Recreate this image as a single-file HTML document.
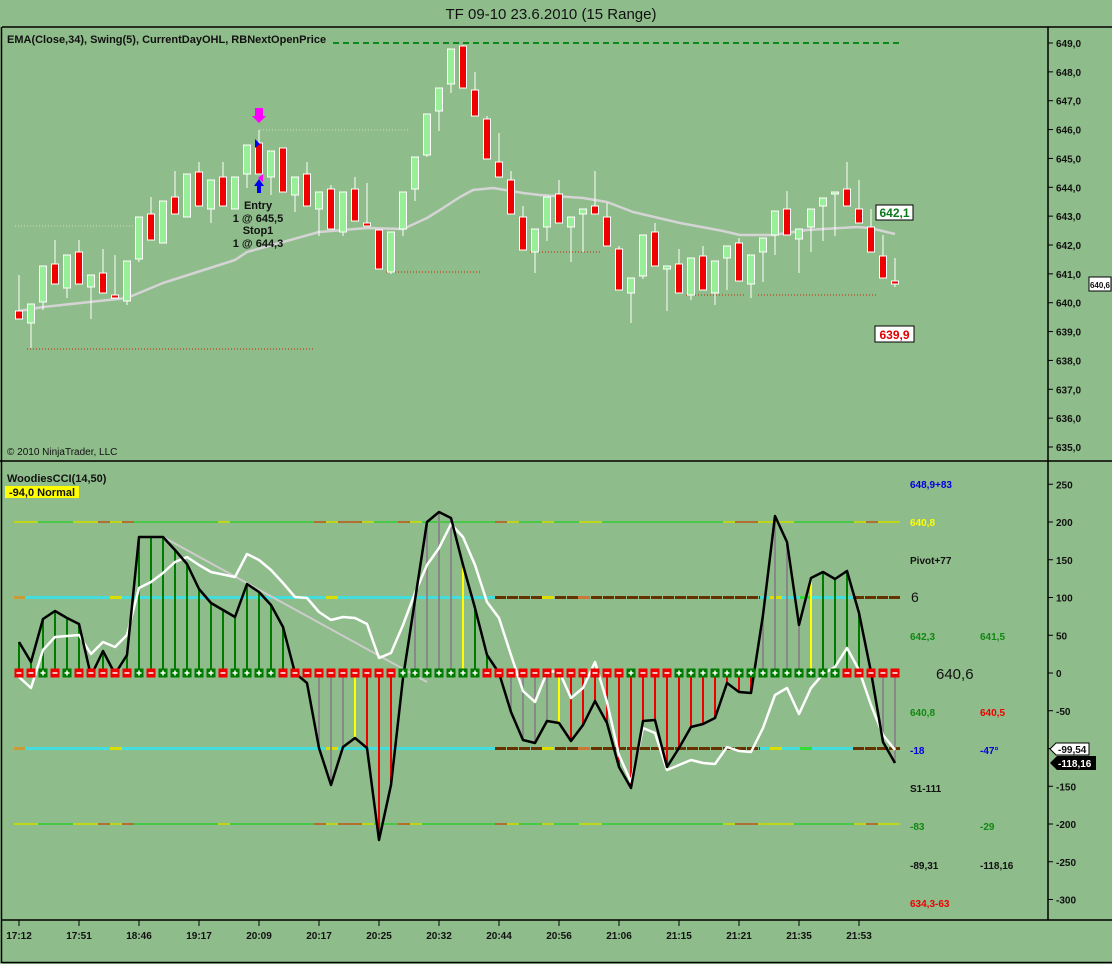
<!DOCTYPE html>
<html><head><meta charset="utf-8">
<style>
html,body{margin:0;padding:0;background:#8fbc8b;}
svg{display:block;font-family:"Liberation Sans",Arial,sans-serif;}
</style></head><body>
<svg id="s" width="1112" height="964" xmlns="http://www.w3.org/2000/svg">
<rect width="1112" height="964" fill="#8fbc8b"/>
<text x="551" y="19" text-anchor="middle" font-size="15" fill="#111">TF 09-10  23.6.2010 (15 Range)</text>
<g id="g"></g>
</svg>
<script>
var g=document.getElementById('g');var h='';
function L(x1,y1,x2,y2,c,w,extra){h+='<line x1="'+x1+'" y1="'+y1+'" x2="'+x2+'" y2="'+y2+'" stroke="'+c+'" stroke-width="'+(w||1)+'" '+(extra||'')+'/>';}
function T(x,y,t,c,s,a,wt){h+='<text x="'+x+'" y="'+y+'" fill="'+c+'" font-size="'+(s||11)+'" font-weight="'+(wt||'bold')+'"'+(a?' text-anchor="'+a+'"':'')+'>'+t+'</text>';}
function R(x,y,w,hh,f,st){h+='<rect x="'+x+'" y="'+y+'" width="'+w+'" height="'+hh+'" fill="'+f+'"'+(st?' stroke="'+st+'"':'')+'/>';}
function P(pts,c,w){h+='<polyline points="'+pts.map(function(p){return p.join(',')}).join(' ')+'" fill="none" stroke="'+c+'" stroke-width="'+w+'" stroke-linejoin="round"/>';}
L(2,27,1112,27,'#000',1.5);L(1.5,27,1.5,963,'#000',1.5);L(0,461,1112,461,'#000',1.5);L(2,920,1112,920,'#000',1.5);L(2,962.5,1112,962.5,'#000',1.5);L(1048,27,1048,920,'#000',1.5);
for(var p=649;p>=635;p--){var y=43+(649-p)*28.857;L(1048,y,1053,y,'#000');T(1056,y+4,p+',0','#111',10);}
L(333,43,900,43,'#0a8a1a',2,'stroke-dasharray="6,4"');
L(27,349,313,349,'#cc2200',1,'stroke-dasharray="1,2"');
L(386,272,481,272,'#cc2200',1,'stroke-dasharray="1,2"');
L(530,252,601,252,'#cc2200',1,'stroke-dasharray="1,2"');
L(686,295,745,295,'#cc2200',1,'stroke-dasharray="1,2"');
L(758,295,877,295,'#cc2200',1,'stroke-dasharray="1,2"');
L(15,226,135,226,'#d0e0c0',1,'stroke-dasharray="1,2"');
L(260,130,410,130,'#d0e0c0',1,'stroke-dasharray="1,2"');
P([[19,311],[43,307],[127,298],[163,283],[235,260],[247,252],[319,232],[367,228],[403,229],[427,218],[440,210],[460,197],[473,190],[493,188],[523,193],[540,195],[583,198],[607,202],[633,212],[680,223],[723,231],[740,235],[773,235],[807,230],[857,227],[870,228],[895,234]],'#d4d4d4',2.5);
var C=[[19,311,319,275,319,1],[31,304,323,304,348,0],[43,266,302,266,310,0],[55,264,284,240,284,1],[67,255,288,255,298,0],[79,252,284,240,284,1],[91,275,287,275,319,0],[103,273,293,249,293,1],[115,295,298,255,298,1],[127,261,301,261,305,0],[139,217,259,217,262,0],[151,214,240,197,240,1],[163,201,243,201,243,0],[175,197,214,171,214,1],[187,174,217,174,217,0],[199,172,206,162,206,1],[211,180,209,180,223,0],[223,177,206,162,206,1],[235,177,209,177,209,0],[247,145,174,145,188,0],[259,143,174,130,174,1],[271,151,177,151,195,0],[283,148,192,148,192,1],[295,177,195,177,212,0],[307,174,206,162,206,1],[319,192,209,192,236,0],[331,189,229,185,229,1],[343,192,232,192,236,0],[355,189,221,177,221,1],[367,223,226,183,226,1],[379,230,269,230,269,1],[391,232,272,232,274,0],[403,192,229,192,236,0],[415,157,189,157,201,0],[427,114,155,114,157,0],[439,88,111,88,131,0],[451,49,84,49,93,0],[463,46,88,45,88,1],[475,90,116,72,116,1],[487,119,159,116,159,1],[499,162,177,133,177,1],[511,180,214,171,214,1],[523,217,250,206,250,1],[535,229,252,229,273,0],[547,197,227,197,241,0],[559,194,223,180,223,1],[571,217,227,217,262,0],[583,209,214,209,252,0],[595,206,214,171,214,1],[607,217,246,203,246,1],[619,249,290,246,290,1],[631,278,293,278,323,0],[643,235,276,235,279,0],[655,232,266,223,266,1],[667,266,269,266,311,0],[679,264,293,249,293,1],[691,258,295,258,300,0],[703,256,290,246,290,1],[715,261,293,261,305,0],[727,246,258,246,290,0],[739,243,281,238,281,1],[751,255,284,255,298,0],[763,238,252,238,282,0],[775,211,235,211,255,0],[787,209,235,191,235,1],[799,229,239,229,273,0],[811,209,227,209,252,0],[823,198,206,198,241,0],[835,192,194,192,236,0],[847,189,206,162,206,1],[859,209,223,180,223,1],[871,227,252,209,252,1],[883,256,278,235,278,1],[895,281,284,258,287,1]];
C.forEach(function(c){L(c[0],c[3],c[0],c[4],'#fff',1);R(c[0]-3.5,c[1],7,Math.max(2,c[2]-c[1]),c[5]?'#ee0000':'#99ee99','#fff');});
h+='<polygon points="255,108 263,108 263,116 266,116 259,123 252,116 255,116" fill="#ff00ff"/>';
h+='<polygon points="257,193 261,193 261,186 264,186 259,179 254,186 257,186" fill="#0000ee"/>';
h+='<polygon points="255,139 260,144 255,148" fill="#0000ee"/>';
h+='<polygon points="263,174 258,178 263,182" fill="#ff00ff"/>';
T(258,209,'Entry','#111',11,'middle');T(258,222,'1 @ 645,5','#111',11,'middle');T(258,234,'Stop1','#111',11,'middle');T(258,247,'1 @ 644,3','#111',11,'middle');
T(7,43,'EMA(Close,34), Swing(5), CurrentDayOHL, RBNextOpenPrice','#111',11);
T(7,455,'© 2010 NinjaTrader, LLC','#111',10,null,'normal');
R(876,205,37,15,'#fff','#000');T(894.5,217,'642,1','#0a7a1a',12,'middle');
R(875,326,39,16,'#fff','#000');T(894.5,339,'639,9','#dd0000',12,'middle');
R(1089,277,22,14,'#fff','#000');T(1100,288,'640,6','#111',8,'middle');
function cy(v){return 673-v*0.755;}
for(var v=250;v>=-300;v-=50){var y=cy(v);L(1048,y,1053,y,'#000');T(1056,y+4,v,'#111',10);}
[200,-200].forEach(function(v){var y=cy(v);L(14,y,900,y,'#33cc33',1.5);
[[14,38,'#dddd00'],[73,98,'#dddd00'],[98,110,'#cc5522'],[110,122,'#dddd00'],[122,134,'#cc5522'],[218,230,'#dddd00'],[314,326,'#cc5522'],[326,338,'#dddd00'],[338,362,'#cc5522'],[362,374,'#dddd00'],[398,410,'#cc5522'],[410,422,'#dddd00'],[495,507,'#cc5522'],[507,519,'#dddd00'],[542,554,'#dddd00'],[579,602,'#dddd00'],[723,735,'#dddd00'],[735,758,'#cc5522'],[758,770,'#dddd00'],[770,794,'#dddd00'],[854,866,'#dddd00'],[866,878,'#cc5522'],[878,900,'#dddd00']].forEach(function(s){L(s[0],y,s[1],y,s[2],1.5);});});
[100,-100].forEach(function(v){var y=cy(v);L(14,y,495,y,'#44dddd',3);L(14,y,25,y,'#cc9933',3);L(110,y,122,y,'#dddd00',3);L(326,y,338,y,'#dddd00',3);L(495,y,760,y,'#663300',3,'stroke-dasharray="11,1"');L(760,y,853,y,'#44dddd',3);L(770,y,782,y,'#dddd00',3);L(800,y,812,y,'#33dd33',3);L(853,y,900,y,'#663300',3,'stroke-dasharray="11,1"');L(542,y,554,y,'#dddd00',3);L(578,y,590,y,'#cc7733',3);});
var Y=[642,662,619,611,618,624,676,651,674,655,537,537,537,550,564,589,603,610,617,584,592,605,627,673,683,748,785,747,738,748,840,785,678,600,522,512,518,565,608,655,673,712,740,743,721,723,741,725,701,723,767,788,721,720,767,748,727,724,718,683,692,693,615,516,542,625,578,572,579,571,613,672,742,763];
var HC=['g','g','g','g','g','g','n','g','n','g','g','g','g','g','g','g','g','g','g','g','g','g','g','n','n','a','a','a','y','r','r','r','r','a','a','a','a','y','g','g','n','a','a','a','a','y','r','r','r','r','r','r','r','r','r','r','r','r','r','r','r','r','a','a','a','a','y','g','g','g','g','n','a','a'];
var cm={g:'#007a00',a:'#888888',y:'#ffff00',r:'#ee0000'};
Y.forEach(function(y,i){var x=19+12*i;if(HC[i]!='n')L(x,673,x,y,cm[HC[i]],2);});
L(163,537,427,682,'#cccccc',2);
var W=[[19,677],[31,688],[43,650],[55,637],[79,635],[91,654],[103,642],[115,647],[127,635],[139,588],[151,582],[163,573],[175,562],[187,557],[199,565],[211,572],[235,577],[247,554],[259,560],[271,570],[283,583],[295,597],[307,598],[319,612],[331,620],[343,617],[355,618],[367,624],[379,658],[391,653],[403,625],[415,593],[427,565],[439,548],[451,524],[463,537],[475,565],[487,602],[499,618],[511,655],[523,691],[535,702],[547,672],[559,671],[571,698],[583,688],[595,662],[607,702],[619,755],[631,782],[643,728],[655,733],[667,770],[679,765],[691,760],[703,763],[715,764],[727,747],[739,751],[751,752],[763,728],[775,695],[787,688],[799,714],[811,688],[823,674],[835,667],[847,648],[859,670],[871,705],[883,735],[895,750]];
P(W,'#ffffff',2.5);
P(Y.map(function(y,i){return [19+12*i,y];}),'#000000',2.5);
var M='rrgrgrrrrrgrgggggrggggrrrrrrrrrrgggggggrrrrrrrrrrrrgrrrggggggggggggggrrrr';
for(var i=0;i<74;i++){var x=19+12*i;R(x-4.5,668.5,9,9,M[i]=='g'?'#007a00':'#ee0000');L(x-2.5,673,x+2.5,673,'#fff',1.5);if(M[i]=='g')L(x,670.5,x,675.5,'#fff',1.5);}
T(7,482,'WoodiesCCI(14,50)','#111',11);
R(5,486,74,12,'#ffff00');T(9,496,'-94,0 Normal','#111',11);
T(910,488,'648,9+83','#0000dd',10);T(910,526,'640,8','#ffff00',10);T(910,564,'Pivot+77','#111',10);
T(911,602,'6','#111',14,null,'normal');
T(910,640,'642,3','#118811',10);T(980,640,'641,5','#118811',10);
T(936,679,'640,6','#111',15,null,'normal');
T(910,716,'640,8','#118811',10);T(980,716,'640,5','#ee0000',10);
T(910,754,'-18','#0000dd',10);T(980,754,'-47°','#0000dd',10);
T(910,792,'S1-111','#111',10);
T(910,830,'-83','#118811',10);T(980,830,'-29','#118811',10);
T(910,869,'-89,31','#111',10);T(980,869,'-118,16','#111',10);
T(910,907,'634,3-63','#ee0000',10);
h+='<polygon points="1050,749 1056,743 1089,743 1089,755 1056,755" fill="#fff" stroke="#000"/>';T(1058,753,'-99,54','#111',10);
h+='<polygon points="1050,763 1057,756 1096,756 1096,770 1057,770" fill="#000"/>';T(1058,767,'-118,16','#fff',10);
var tl=['17:12','17:51','18:46','19:17','20:09','20:17','20:25','20:32','20:44','20:56','21:06','21:15','21:21','21:35','21:53'];
tl.forEach(function(t,k){var x=19+60*k;L(x,920,x,926,'#000');T(x,939,t,'#111',10,'middle');});
g.innerHTML=h;
</script>
</body></html>
